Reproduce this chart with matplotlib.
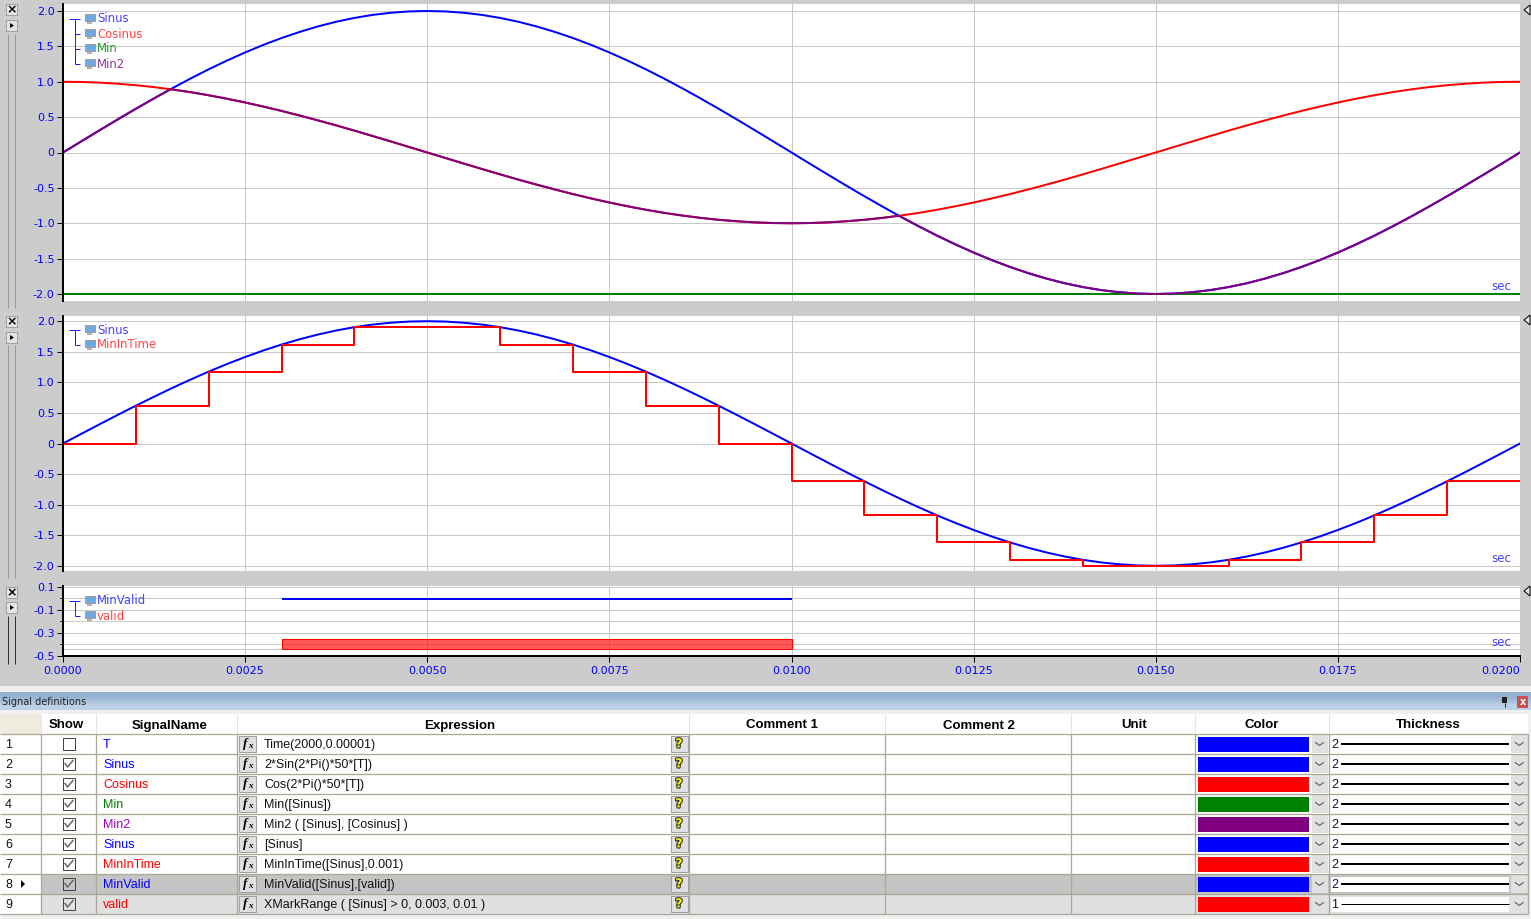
import matplotlib
matplotlib.use('Agg')  # no GUI
import matplotlib.pyplot as plt
import matplotlib.patheffects as pe
from matplotlib.patches import Rectangle, Polygon

# values
t_wave = [0.0, 0.00025, 0.0005, 0.00075, 0.001, 0.00125, 0.0015, 0.00175, 0.002, 0.00225,
          0.0025, 0.00275, 0.003, 0.00325, 0.0035, 0.00375, 0.004, 0.00425, 0.0045, 0.00475,
          0.005, 0.00525, 0.0055, 0.00575, 0.006, 0.00625, 0.0065, 0.00675, 0.007, 0.00725,
          0.0075, 0.00775, 0.008, 0.00825, 0.0085, 0.00875, 0.009, 0.00925, 0.0095, 0.00975,
          0.01, 0.01025, 0.0105, 0.01075, 0.011, 0.01125, 0.0115, 0.01175, 0.012, 0.01225,
          0.0125, 0.01275, 0.013, 0.01325, 0.0135, 0.01375, 0.014, 0.01425, 0.0145, 0.01475,
          0.015, 0.01525, 0.0155, 0.01575, 0.016, 0.01625, 0.0165, 0.01675, 0.017, 0.01725,
          0.0175, 0.01775, 0.018, 0.01825, 0.0185, 0.01875, 0.019, 0.01925, 0.0195, 0.01975, 0.02]
sinus = [0, 0.157, 0.313, 0.467, 0.618, 0.765, 0.908, 1.045, 1.176, 1.299,
         1.414, 1.521, 1.618, 1.705, 1.782, 1.848, 1.902, 1.945, 1.975, 1.994,
         2.0, 1.994, 1.975, 1.945, 1.902, 1.848, 1.782, 1.705, 1.618, 1.521,
         1.414, 1.299, 1.176, 1.045, 0.908, 0.765, 0.618, 0.467, 0.313, 0.157,
         0, -0.157, -0.313, -0.467, -0.618, -0.765, -0.908, -1.045, -1.176, -1.299,
         -1.414, -1.521, -1.618, -1.705, -1.782, -1.848, -1.902, -1.945, -1.975, -1.994,
         -2.0, -1.994, -1.975, -1.945, -1.902, -1.848, -1.782, -1.705, -1.618, -1.521,
         -1.414, -1.299, -1.176, -1.045, -0.908, -0.765, -0.618, -0.467, -0.313, -0.157, 0]
cosinus = [1.0, 0.997, 0.988, 0.972, 0.951, 0.924, 0.891, 0.853, 0.809, 0.76,
           0.707, 0.649, 0.588, 0.522, 0.454, 0.383, 0.309, 0.233, 0.156, 0.078,
           0, -0.078, -0.156, -0.233, -0.309, -0.383, -0.454, -0.522, -0.588, -0.649,
           -0.707, -0.76, -0.809, -0.853, -0.891, -0.924, -0.951, -0.972, -0.988, -0.997,
           -1.0, -0.997, -0.988, -0.972, -0.951, -0.924, -0.891, -0.853, -0.809, -0.76,
           -0.707, -0.649, -0.588, -0.522, -0.454, -0.383, -0.309, -0.233, -0.156, -0.078,
           0, 0.078, 0.156, 0.233, 0.309, 0.383, 0.454, 0.522, 0.588, 0.649,
           0.707, 0.76, 0.809, 0.853, 0.891, 0.924, 0.951, 0.972, 0.988, 0.997, 1.0]
t_min2 = [0.0, 0.00025, 0.0005, 0.00075, 0.001, 0.00125, 0.001476, 0.0015, 0.00175, 0.002, 0.00225,
          0.0025, 0.00275, 0.003, 0.00325, 0.0035, 0.00375, 0.004, 0.00425, 0.0045, 0.00475,
          0.005, 0.00525, 0.0055, 0.00575, 0.006, 0.00625, 0.0065, 0.00675, 0.007, 0.00725,
          0.0075, 0.00775, 0.008, 0.00825, 0.0085, 0.00875, 0.009, 0.00925, 0.0095, 0.00975,
          0.01, 0.01025, 0.0105, 0.01075, 0.011, 0.01125, 0.011476, 0.0115, 0.01175, 0.012, 0.01225,
          0.0125, 0.01275, 0.013, 0.01325, 0.0135, 0.01375, 0.014, 0.01425, 0.0145, 0.01475,
          0.015, 0.01525, 0.0155, 0.01575, 0.016, 0.01625, 0.0165, 0.01675, 0.017, 0.01725,
          0.0175, 0.01775, 0.018, 0.01825, 0.0185, 0.01875, 0.019, 0.01925, 0.0195, 0.01975, 0.02]
min2 = [0, 0.157, 0.313, 0.467, 0.618, 0.765, 0.894, 0.891, 0.853, 0.809, 0.76,
        0.707, 0.649, 0.588, 0.522, 0.454, 0.383, 0.309, 0.233, 0.156, 0.078,
        0, -0.078, -0.156, -0.233, -0.309, -0.383, -0.454, -0.522, -0.588, -0.649,
        -0.707, -0.76, -0.809, -0.853, -0.891, -0.924, -0.951, -0.972, -0.988, -0.997,
        -1.0, -0.997, -0.988, -0.972, -0.951, -0.924, -0.894, -0.908, -1.045, -1.176, -1.299,
        -1.414, -1.521, -1.618, -1.705, -1.782, -1.848, -1.902, -1.945, -1.975, -1.994,
        -2.0, -1.994, -1.975, -1.945, -1.902, -1.848, -1.782, -1.705, -1.618, -1.521,
        -1.414, -1.299, -1.176, -1.045, -0.908, -0.765, -0.618, -0.467, -0.313, -0.157, 0]
t_min = [0.0, 0.02]
min_line = [-2.0, -2.0]

t_steps = [0.0, 0.001, 0.002, 0.003, 0.004, 0.005, 0.006, 0.007, 0.008, 0.009, 0.01,
           0.011, 0.012, 0.013, 0.014, 0.015, 0.016, 0.017, 0.018, 0.019, 0.02]
min_in_time = [0, 0.618, 1.176, 1.618, 1.902, 1.902, 1.618, 1.176, 0.618, 0, -0.618,
               -1.176, -1.618, -1.902, -2.0, -2.0, -1.902, -1.618, -1.176, -0.618, -0.618]

t_valid = [0.003, 0.01]
min_valid = [-0.004, -0.004]
valid_low = -0.441
valid_high = -0.349

x_ticks = [0.0, 0.0025, 0.005, 0.0075, 0.01, 0.0125, 0.015, 0.0175, 0.02]
x_labels = ['0.0000', '0.0025', '0.0050', '0.0075', '0.0100', '0.0125', '0.0150', '0.0175', '0.0200']
y_ticks = [2.0, 1.5, 1.0, 0.5, 0, -0.5, -1.0, -1.5, -2.0]
y_labels = ['2.0', '1.5', '1.0', '0.5', '0', '-0.5', '-1.0', '-1.5', '-2.0']
y3_ticks = [0.1, -0.1, -0.3, -0.5]
y3_labels = ['0.1', '-0.1', '-0.3', '-0.5']
y3_minor = [0, -0.2, -0.4, -0.44]

row_nums = ['1', '2', '3', '4', '5', '6', '7', '8', '9']
row_names = ['T', 'Sinus', 'Cosinus', 'Min', 'Min2', 'Sinus', 'MinInTime', 'MinValid', 'valid']
row_exprs = ['Time(2000,0.00001)', '2*Sin(2*Pi()*50*[T])', 'Cos(2*Pi()*50*[T])', 'Min([Sinus])',
             'Min2 ( [Sinus], [Cosinus] )', '[Sinus]', 'MinInTime([Sinus],0.001)',
             'MinValid([Sinus],[valid])', 'XMarkRange ( [Sinus] > 0, 0.003, 0.01 )']
row_show = [False, True, True, True, True, True, True, True, True]
row_colors = ['#0000FF', '#0000FF', '#FF0000', '#008000', '#800080', '#0000FF', '#FF0000', '#0000FF', '#FF0000']
name_colors = ['#0000FF', '#0000FF', '#FF0000', '#008000', '#A000C0', '#0000FF', '#FF0000', '#0000FF', '#FF0000']
row_thick = [2, 2, 2, 2, 2, 2, 2, 2, 1]

headers = ['Show', 'SignalName', 'Expression', 'Comment 1', 'Comment 2', 'Unit', 'Color', 'Thickness']
header_x = [66, 170, 460, 782, 979, 1134, 1262, 1428]
col_x = [41, 96, 237, 689, 885, 1071, 1195, 1329, 1528]

W, H = 1531, 919
BG = '#CCCCCC'
GRID = '#C8C8C8'
TICK = '#0000FF'
LINE = '#ACA899'
px = 0.72  # one pixel in points at dpi 100

plt.rcParams['font.family'] = ['DejaVu Sans']
fig = plt.figure(figsize=(15.31, 9.19), dpi=100, facecolor=BG)


def panel(top, bottom, ylim):
    ax = fig.add_axes([63 / W, 1 - bottom / H, (1520 - 63) / W, (bottom - top) / H], facecolor='white')
    ax.set_xlim(0, 0.02)
    ax.set_ylim(*ylim)
    for s in ['top', 'right', 'bottom']:
        ax.spines[s].set_visible(False)
    ax.spines['left'].set_linewidth(2 * px)
    ax.set_xticks(x_ticks)
    ax.grid(True, color=GRID, linewidth=1 * px)
    ax.set_axisbelow(True)
    ax.tick_params(axis='y', length=4, width=1 * px, labelsize=8, labelcolor=TICK, pad=2)
    ax.tick_params(axis='x', length=0, labelbottom=False)
    return ax


# top panel
ax1 = panel(4, 301, (-2.099, 2.099))
ax1.set_yticks(y_ticks)
ax1.set_yticklabels(y_labels)
ax1.plot(t_wave, sinus, color='#0000FF', lw=2 * px)
ax1.plot(t_wave, cosinus, color='#FF0000', lw=2 * px)
ax1.plot(t_min, min_line, color='#008000', lw=2 * px)
ax1.plot(t_min2, min2, color='#800080', lw=2 * px)

# middle panel
ax2 = panel(316, 571, (-2.085, 2.085))
ax2.set_yticks(y_ticks)
ax2.set_yticklabels(y_labels)
ax2.plot(t_wave, sinus, color='#0000FF', lw=2 * px)
ax2.step(t_steps, min_in_time, where='post', color='#FF0000', lw=2 * px)

# bottom panel
ax3 = panel(586, 656, (-0.5, 0.1086))
ax3.set_yticks(y3_ticks)
ax3.set_yticklabels(y3_labels)
ax3.set_yticks(y3_minor[:3], minor=True)
ax3.tick_params(axis='y', which='minor', length=2, width=1 * px)
ax3.grid(True, which='minor', axis='y', color=GRID, linewidth=1 * px)
ax3.axhline(y3_minor[3], color=GRID, lw=1 * px, zorder=0.5)
ax3.spines['bottom'].set_visible(True)
ax3.spines['bottom'].set_linewidth(2 * px)
ax3.plot(t_valid, min_valid, color='#0000FF', lw=2 * px, solid_capstyle='butt')
ax3.barh((valid_low + valid_high) / 2, t_valid[1] - t_valid[0], height=valid_high - valid_low,
         left=t_valid[0], color=(1, 0, 0, 0.65), edgecolor='#FF0000', linewidth=1 * px, zorder=3)
ax3.tick_params(axis='x', length=4, width=1 * px, labelbottom=True, labelsize=8, labelcolor=TICK, pad=3)
ax3.set_xticklabels(x_labels)
ax3.get_xticklabels()[-1].set_ha('right')

# overlay in pixel coordinates for the window parts
ui = fig.add_axes([0, 0, 1, 1], zorder=5)
ui.patch.set_alpha(0)
ui.axis('off')

ui.imshow([[0], [1]], cmap=matplotlib.colors.LinearSegmentedColormap.from_list('bar', ['#95B2D2', '#BCD0E6']),
          extent=(0, W, 710, 692), aspect='auto', interpolation='bilinear')
ui.set_xlim(0, W)
ui.set_ylim(H, 0)


def rect(x0, y0, x1, y1, fc, ec='none', lw=1, z=1):
    ui.add_patch(Rectangle((x0, y0), x1 - x0, y1 - y0, facecolor=fc, edgecolor=ec, linewidth=lw * px, zorder=z))


def hline(x0, x1, y, color, lw=1, z=2):
    ui.plot([x0, x1], [y, y], color=color, lw=lw * px, solid_capstyle='butt', zorder=z)


def vline(x, y0, y1, color, lw=1, z=2):
    ui.plot([x, x], [y0, y1], color=color, lw=lw * px, solid_capstyle='butt', zorder=z)


def legend(x_text, y0, names, colors):
    hline(69, 80, y0, '#2222EE')
    vline(75, y0, y0 + 15 * (len(names) - 1), '#2222EE')
    for i, (n, c) in enumerate(zip(names, colors)):
        y = y0 + 15 * i
        if i > 0:
            hline(75, 80, y, '#2222EE')
        rect(84.5, y - 5, 94.5, y + 2.5, '#6FA8DC', ec='#A0A0A0', z=6)
        rect(87, y + 3, 92, y + 5, '#B0B0B0', z=6)
        ui.text(x_text, y + 0.5, n, color=c, fontsize=8.4, va='center', ha='left', zorder=6)


legend(97, 18.5, ['Sinus', 'Cosinus', 'Min', 'Min2'], ['#4444FF', '#FF4444', '#229922', '#993399'])
legend(97, 329.5, ['Sinus', 'MinInTime'], ['#4444FF', '#FF4444'])
legend(97, 600.5, ['MinValid', 'valid'], ['#4444FF', '#FF4444'])
for y in [287, 558, 643]:
    ui.text(1511, y, 'sec', color='#4444FF', fontsize=8.6, va='center', ha='right', zorder=6)

# buttons and sliders left of each panel
for y_btn, y_arrow, y0, y1, c in [(4, 20, 34, 308, '#999999'), (316, 332, 345, 578, '#999999'),
                                  (587, 602, 616, 664, '#333333')]:
    rect(6, y_btn, 17, y_btn + 11, '#E4E4E4', ec='#A0A0A0')
    ui.text(11.5, y_btn + 5.5, '×', fontsize=9, fontweight='bold', ha='center', va='center', color='black', zorder=4)
    rect(6, y_arrow, 17, y_arrow + 11, '#E4E4E4', ec='#A0A0A0')
    ui.add_patch(Polygon([(10, y_arrow + 3), (14, y_arrow + 5.5), (10, y_arrow + 8)], facecolor='black', zorder=4))
    vline(8, y0, y1, c)
    vline(15, y0, y1, c)

# little triangles at the right edge
for y in [10, 320, 591]:
    ui.add_patch(Polygon([(1530, y - 5), (1524, y), (1530, y + 5)], facecolor='#E8E8E8', edgecolor='black',
                         linewidth=1 * px, zorder=4))

# signal definitions window
rect(0, 686, W, 692, '#F0F0F0')
rect(0, 710, W, H, '#F0F0F0')
ui.text(2, 702, 'Signal definitions', fontsize=7, va='center', ha='left', color='#222222', zorder=3)
rect(1517, 696, 1528, 708, '#C8504F', z=3)
ui.text(1522.5, 702, 'x', fontsize=7, fontweight='bold', color='white', ha='center', va='center', zorder=4)
rect(1502, 697, 1507, 703, '#222222', z=3)
vline(1504.5, 703, 707, '#222222', z=3)

# header row
rect(0, 714, 41, 734, '#EFEBDE')
rect(41, 714, 1528, 734, 'white')
for x in col_x[:-1]:
    vline(x, 714, 734, '#E4E4E4')
for i, h in enumerate(headers):
    dy = 0.8 if h == 'Comment 2' else 0
    ui.text(header_x[i], 725.5 + dy, h, fontsize=9.5, fontweight='bold', family='Liberation Sans', ha='center', va='center', zorder=3)

# table rows
for i in range(len(row_names)):
    y0 = 734 + 20 * i
    y1 = y0 + 20
    mid = y0 + 10
    fill = 'white'
    if i == 7:
        fill = '#C4C4C4'
    if i == 8:
        fill = '#E0E0E0'
    rect(0, y0, 41, y1, 'white')
    rect(41, y0, 1329, y1, fill)
    rect(1329, y0, 1528, y1, fill)
    ui.text(5, mid + 0.8, row_nums[i], fontsize=9, family='Liberation Sans', va='center', ha='left', color='#111111', zorder=3)
    if i == 7:
        ui.add_patch(Polygon([(21, mid - 4), (25, mid), (21, mid + 4)], facecolor='black', zorder=3))
    # checkbox
    rect(62.5, mid - 6, 75, mid + 6, 'white' if i < 7 else fill, ec='#444444', z=3)
    if row_show[i]:
        ui.plot([65, 67.5, 73], [mid - 0.5, mid + 3, mid - 3.5], color='#666666', lw=1.5 * px, zorder=4)
    ui.text(103, mid + 0.8, row_names[i], color=name_colors[i], fontsize=9, family='Liberation Sans', va='center', ha='left', zorder=3)
    # fx button
    rect(238.5, y0 + 1.5, 255.5, y0 + 18, '#E0E0E0', ec='#A0A0A0', z=3)
    ui.text(245.5, mid, 'f', fontsize=9.5, family='Liberation Serif', style='italic', fontweight='bold',
            ha='center', va='center', zorder=4)
    ui.text(250.5, mid + 1.5, 'x', fontsize=6.5, family='Liberation Serif', style='italic', fontweight='bold',
            ha='center', va='center', zorder=4)
    ui.text(264, mid + 0.8, row_exprs[i], fontsize=9, family='Liberation Sans', va='center', ha='left', color='#111111', zorder=3)
    # help button
    rect(671, y0 + 2, 687.5, y0 + 17.5, '#E0E0E0', ec='#A0A0A0', z=3)
    ui.text(679, mid, '?', fontsize=9, fontweight='bold', color='#FFFF00', ha='center', va='center', zorder=4,
            path_effects=[pe.withStroke(linewidth=1.6, foreground='#333333')])
    # colour swatch and dropdowns
    rect(1198, y0 + 2.7, 1309, y0 + 18.3, row_colors[i], z=3)
    for bx0, bx1 in [(1311.5, 1327.5), (1511, 1527.5)]:
        rect(bx0, y0 + 1, bx1, y1 - 1, '#E1E1E1', z=3)
        cx = (bx0 + bx1) / 2
        ui.plot([cx - 4, cx, cx + 4], [mid - 1.5, mid + 1.5, mid - 1.5], color='#555555', lw=1 * px, zorder=4)
    if i >= 7:
        rect(1331, y0 + 2.7, 1509, y0 + 18.3, 'white', z=3)
    ui.text(1331, mid + 0.8, str(row_thick[i]), fontsize=9, family='Liberation Sans', va='center', ha='left', color='#111133', zorder=4)
    hline(1341, 1509, mid - 0.5, 'black', lw=row_thick[i], z=4)

# grid lines go on top of the row fills
for i in range(len(row_names) + 1):
    hline(0, 1528, 734 + 20 * i, LINE, lw=1.3, z=5)
for x in col_x:
    vline(x, 734, 914, LINE, lw=1.3, z=5)

fig.savefig('out.png', dpi=100, facecolor=BG)
plt.close(fig)
